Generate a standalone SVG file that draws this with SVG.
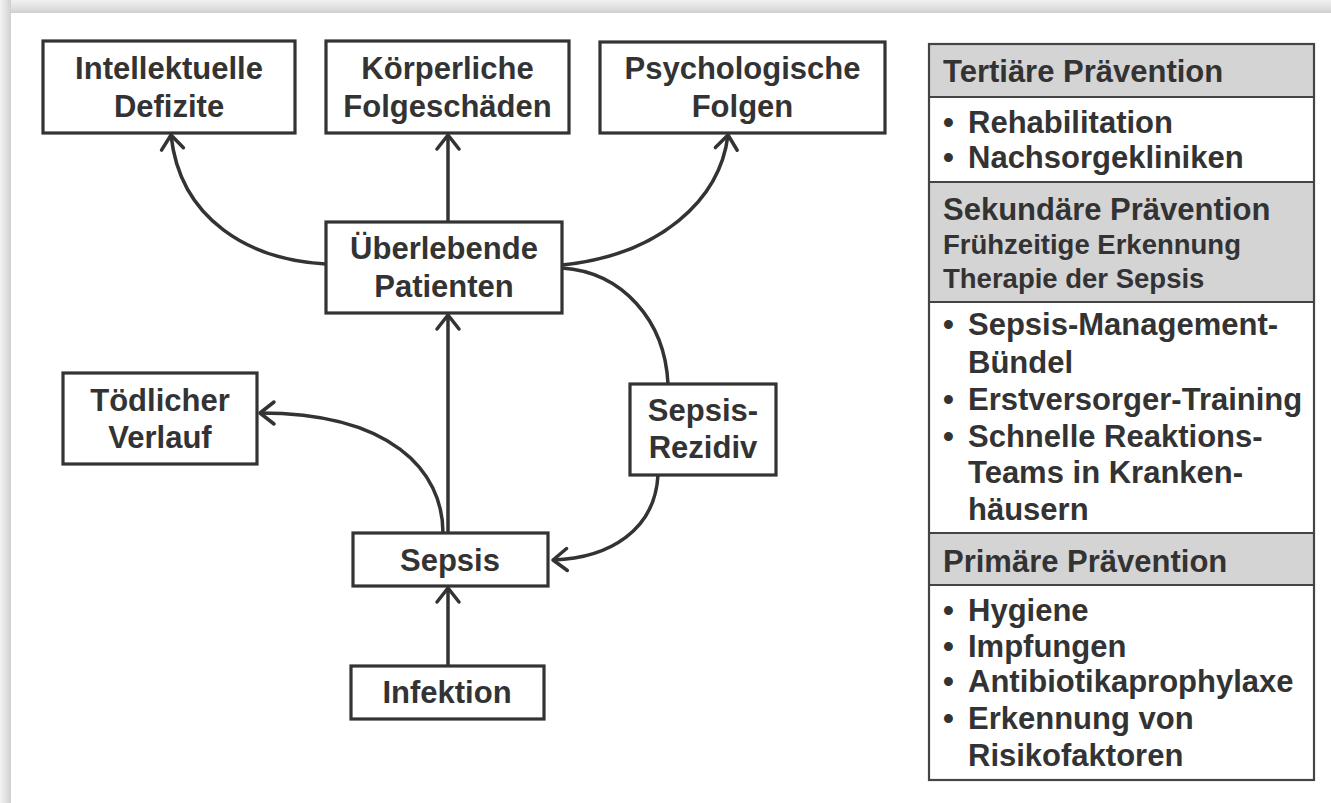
<svg xmlns="http://www.w3.org/2000/svg" width="1331" height="803" viewBox="0 0 1331 803">
<defs>
<linearGradient id="gTop" x1="0" y1="0" x2="0" y2="1">
<stop offset="0" stop-color="#f2f2f2"/>
<stop offset="0.7" stop-color="#dcdcdc"/>
<stop offset="1" stop-color="#cfcfcf"/>
</linearGradient>
<linearGradient id="gLeft" x1="0" y1="0" x2="1" y2="0">
<stop offset="0" stop-color="#f2f2f2"/>
<stop offset="0.7" stop-color="#dcdcdc"/>
<stop offset="1" stop-color="#cfcfcf"/>
</linearGradient>
<marker id="arr" markerUnits="userSpaceOnUse" markerWidth="30" markerHeight="30" refX="1" refY="15" viewBox="0 0 30 30" orient="auto" overflow="visible">
<path d="M -13 4 L 1 15 L -13 26" fill="none" stroke="#333" stroke-width="3.5" stroke-linecap="round" stroke-linejoin="round"/>
</marker>
<style>
.box{fill:#fff;stroke:#333;stroke-width:3.2}
.t{font-family:"Liberation Sans",Arial,sans-serif;font-weight:bold;font-size:31px;fill:#333}
.c{text-anchor:middle}
.s{font-size:27.5px}
.ln{fill:none;stroke:#333;stroke-width:3.5}
.hdr{fill:#d4d4d5;stroke:none}
.div{stroke:#444;stroke-width:2}
</style>
</defs>
<rect x="0" y="0" width="1331" height="803" fill="#fff"/>
<rect x="0" y="0" width="1331" height="13" fill="url(#gTop)"/>
<rect x="0" y="0" width="11" height="803" fill="url(#gLeft)"/>

<g id="connectors">
<path class="ln" d="M 448 666 L 448 588" marker-end="url(#arr)"/>
<path class="ln" d="M 448 533 L 448 315" marker-end="url(#arr)"/>
<path class="ln" d="M 443 533 C 443 470 390 413 260 413" marker-end="url(#arr)"/>
<path class="ln" d="M 448 222 L 448 135" marker-end="url(#arr)"/>
<path class="ln" d="M 326 264 C 250 260 180 220 171 135" marker-end="url(#arr)"/>
<path class="ln" d="M 562 265 C 660 255 720 200 728 135" marker-end="url(#arr)"/>
<path class="ln" d="M 562 268 C 622 272 665 320 668 384"/>
<path class="ln" d="M 658 475 C 655 530 610 558 553 560" marker-end="url(#arr)"/>
</g>

<g id="n-intellektuelle">
<rect class="box" x="43" y="41" width="252" height="92"/>
<text class="t c" x="169" y="79">Intellektuelle</text>
<text class="t c" x="169" y="117">Defizite</text>
</g>
<g id="n-koerperliche">
<rect class="box" x="326" y="41" width="243" height="92"/>
<text class="t c" x="447.5" y="79">Körperliche</text>
<text class="t c" x="447.5" y="117">Folgeschäden</text>
</g>
<g id="n-psychologische">
<rect class="box" x="600" y="42" width="285" height="91"/>
<text class="t c" x="742.5" y="79">Psychologische</text>
<text class="t c" x="742.5" y="117">Folgen</text>
</g>
<g id="n-ueberlebende">
<rect class="box" x="326" y="222" width="236" height="91"/>
<text class="t c" x="444" y="259">Überlebende</text>
<text class="t c" x="444" y="297">Patienten</text>
</g>
<g id="n-toedlich">
<rect class="box" x="63" y="373" width="194" height="91"/>
<text class="t c" x="160" y="411">Tödlicher</text>
<text class="t c" x="160" y="448">Verlauf</text>
</g>
<g id="n-rezidiv">
<rect class="box" x="630" y="384" width="146" height="91"/>
<text class="t c" x="703" y="421">Sepsis-</text>
<text class="t c" x="703" y="458">Rezidiv</text>
</g>
<g id="n-sepsis">
<rect class="box" x="353" y="533" width="195" height="53"/>
<text class="t c" x="450" y="571">Sepsis</text>
</g>
<g id="n-infektion">
<rect class="box" x="351" y="666" width="193" height="53"/>
<text class="t c" x="447" y="703">Infektion</text>
</g>

<g id="panel">
<rect x="929" y="44" width="385" height="736" fill="#fff"/>
<rect class="hdr" x="929" y="44" width="385" height="53"/>
<rect class="hdr" x="929" y="182" width="385" height="120"/>
<rect class="hdr" x="929" y="533" width="385" height="52"/>
<line class="div" x1="929" y1="97" x2="1314" y2="97"/>
<line class="div" x1="929" y1="182" x2="1314" y2="182"/>
<line class="div" x1="929" y1="302" x2="1314" y2="302"/>
<line class="div" x1="929" y1="533" x2="1314" y2="533"/>
<line class="div" x1="929" y1="585" x2="1314" y2="585"/>
<rect x="929" y="44" width="385" height="736" fill="none" stroke="#444" stroke-width="2.2"/>
<text class="t" x="943" y="82">Tertiäre Prävention</text>
<text class="t" x="943" y="133">•</text><text class="t" x="968" y="133">Rehabilitation</text>
<text class="t" x="943" y="168">•</text><text class="t" x="968" y="168">Nachsorgekliniken</text>
<text class="t" x="943" y="220">Sekundäre Prävention</text>
<text class="t s" x="943" y="254">Frühzeitige Erkennung</text>
<text class="t s" x="943" y="288">Therapie der Sepsis</text>
<text class="t" x="943" y="335">•</text><text class="t" x="968" y="335">Sepsis-Management-</text>
<text class="t" x="968" y="373">Bündel</text>
<text class="t" x="943" y="410">•</text><text class="t" x="968" y="410">Erstversorger-Training</text>
<text class="t" x="943" y="447">•</text><text class="t" x="968" y="447">Schnelle Reaktions-</text>
<text class="t" x="968" y="483">Teams in Kranken-</text>
<text class="t" x="968" y="520">häusern</text>
<text class="t" x="943" y="572">Primäre Prävention</text>
<text class="t" x="943" y="621">•</text><text class="t" x="968" y="621">Hygiene</text>
<text class="t" x="943" y="657">•</text><text class="t" x="968" y="657">Impfungen</text>
<text class="t" x="943" y="692">•</text><text class="t" x="968" y="692">Antibiotikaprophylaxe</text>
<text class="t" x="943" y="729">•</text><text class="t" x="968" y="729">Erkennung von</text>
<text class="t" x="968" y="766">Risikofaktoren</text>
</g>
</svg>
